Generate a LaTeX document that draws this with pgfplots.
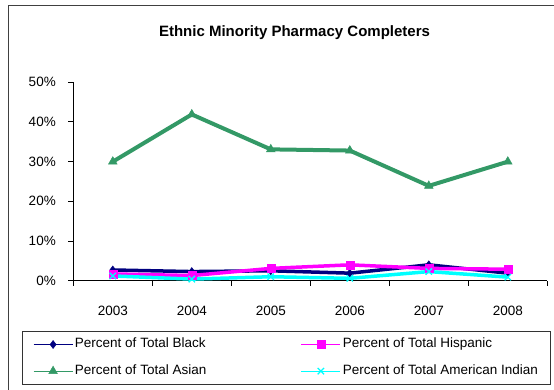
\documentclass[border=0pt]{standalone}
\usepackage{pgfplots}
\pgfplotsset{compat=1.18}
\usepackage{fontspec}
\setmainfont{Liberation Sans}
\definecolor{cBlack}{RGB}{0,0,128}
\definecolor{cHisp}{RGB}{255,0,255}
\definecolor{cAsian}{RGB}{51,153,102}
\definecolor{cInd}{RGB}{0,255,255}
\begin{document}
\begin{tikzpicture}
\useasboundingbox (0pt,0pt) rectangle (554pt,389pt);
\clip (0pt,0pt) rectangle (554pt,389pt);
\draw[line width=1pt, black!75] (8pt,-5pt) -- (8pt,383pt) -- (600pt,383pt);
\node[font=\fontsize{15}{18}\selectfont\bfseries] at (294.5pt,356pt) {Ethnic Minority Pharmacy Completers};
\begin{axis}[
  at={(73.3pt,108.3pt)}, anchor=south west,
  scale only axis, width=474pt, height=198.4pt,
  xmin=-0.5, xmax=5.5, ymin=0, ymax=50,
  axis x line=bottom, axis y line=left,
  axis line style={-, line width=1.3pt},
  xtick={0,1,2,3,4,5},
  xticklabels={2003,2004,2005,2006,2007,2008},
  major x tick style={draw=none},
  minor xtick={-0.5,0.5,1.5,2.5,3.5,4.5,5.5},
  ytick={0,10,20,30,40,50},
  yticklabels={0\%,10\%,20\%,30\%,40\%,50\%},
  tick align=outside,
  major tick length=5pt, minor tick length=5pt,
  every tick/.style={black, line width=1pt},
  tick label style={font=\fontsize{13.5}{16}\selectfont},
  xticklabel style={yshift=-17pt},
  yticklabel style={xshift=-9pt},
  clip=false,
  legend columns=2,
  legend style={at={(-0.1089,-0.2535)}, anchor=north west, draw=black!80, line width=1pt,
    inner xsep=11pt, inner ysep=4.5pt, row sep=9.7pt, column sep=0pt,
    nodes={inner sep=2pt, text height=10pt, text depth=3pt}, font=\fontsize{13.5}{16}\selectfont},
  legend cell align=left,
  legend image code/.code={%
    \draw[#1, line width=0.8pt, mark=none] (0pt,0pt) -- (39pt,0pt);
    \draw[#1, line width=0.8pt, only marks] plot coordinates {(19.5pt,0pt)};},
]
\addplot[cBlack, line width=3.5pt, mark=diamond*, mark size=4pt, mark options={line width=0.5pt}] coordinates {(0,2.7) (1,2.3) (2,2.5) (3,1.9) (4,4.0) (5,1.9)};
\addlegendentry{\makebox[224pt][l]{Percent of Total Black}}
\addplot[cHisp, line width=3.5pt, mark=square*, mark size=4pt, mark options={line width=0.5pt}] coordinates {(0,1.7) (1,1.3) (2,3.1) (3,4.0) (4,3.1) (5,2.9)};
\addlegendentry{Percent of Total Hispanic}
\addplot[cAsian, line width=4pt, mark=triangle*, mark size=5pt, mark options={line width=0.5pt}] coordinates {(0,30.0) (1,41.9) (2,33.1) (3,32.8) (4,23.9) (5,30.0)};
\addlegendentry{\makebox[224pt][l]{Percent of Total Asian}}
\addplot[cInd, line width=3.5pt, mark=x, mark size=4.5pt, mark options={line width=1.3pt}] coordinates {(0,1.2) (1,0.4) (2,1.0) (3,0.6) (4,2.3) (5,0.9)};
\addlegendentry{Percent of Total American Indian}
\end{axis}
\end{tikzpicture}
\end{document}
